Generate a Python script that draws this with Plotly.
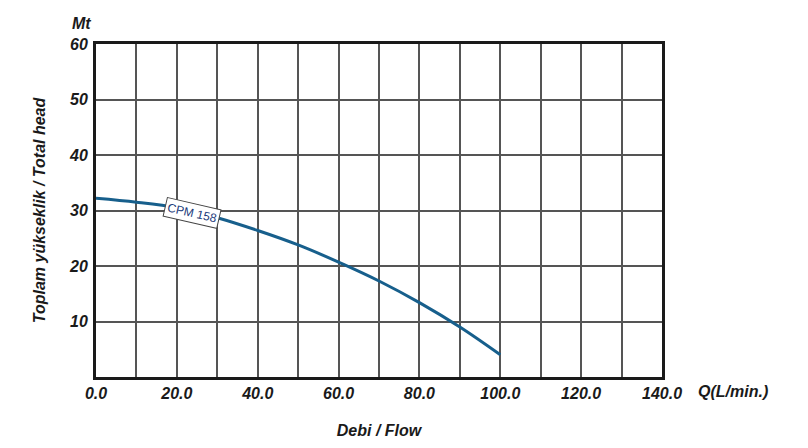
import plotly.graph_objects as go

flow = [0, 10, 20, 30, 40, 50, 60, 70, 80, 90, 100]
head = [32.2, 31.5, 30.5, 28.7, 26.4, 23.8, 20.7, 17.3, 13.4, 9.0, 4.0]
x_ticks = list(range(0, 150, 10))
x_text = [f"{v:.1f}" if v % 20 == 0 else "" for v in x_ticks]
y_ticks = list(range(0, 70, 10))
y_text = ["" if v == 0 else str(v) for v in y_ticks]
series_name = "CPM 158"

font = "Liberation Sans, Arial, sans-serif"

fig = go.Figure()
fig.add_trace(go.Scatter(x=flow, y=head, mode="lines",
                         line=dict(color="#175f8c", width=3, shape="spline"),
                         showlegend=False, hoverinfo="skip"))

fig.update_layout(
    width=808, height=448,
    margin=dict(l=96, r=146, t=44, b=71),
    paper_bgcolor="white", plot_bgcolor="white",
    font=dict(family=font, color="#1a1a1a"),
    xaxis=dict(range=[0, 140], tickmode="array", tickvals=x_ticks, ticktext=x_text,
               showgrid=True, gridcolor="#555555", gridwidth=1.5,
               showline=True, linecolor="#1a1a1a", linewidth=3, mirror=True,
               ticks="", zeroline=False,
               tickfont=dict(size=16, family=font, weight="bold", style="italic"),
               title=dict(text="<b><i>Debi / Flow</i></b>", font=dict(size=16), standoff=24)),
    yaxis=dict(range=[0, 60], tickmode="array", tickvals=y_ticks, ticktext=y_text,
               showgrid=True, gridcolor="#555555", gridwidth=1.5,
               showline=True, linecolor="#1a1a1a", linewidth=3, mirror=True,
               ticks="", zeroline=False, ticklabelstandoff=2,
               tickfont=dict(size=16, family=font, weight="bold", style="italic"),
               title=dict(text="<b><i>Toplam yükseklik / Total head</i></b>", font=dict(size=16), standoff=20)),
)

fig.add_annotation(x=0, y=1, xref="paper", yref="paper", xanchor="right", yanchor="bottom",
                   xshift=-3, yshift=10, showarrow=False,
                   text="<b><i>Mt</i></b>", font=dict(size=16))
fig.add_annotation(x=1, y=0, xref="paper", yref="paper", xanchor="left", yanchor="top",
                   xshift=34, yshift=-4, showarrow=False,
                   text="<b><i>Q(L/min.)</i></b>", font=dict(size=16))
fig.add_annotation(x=23.8, y=29.5, showarrow=False, text=series_name, textangle=13,
                   font=dict(size=12, color="#1a3a7a"), bgcolor="white",
                   bordercolor="#444444", borderwidth=1, borderpad=2)

fig.write_html("out.html")
